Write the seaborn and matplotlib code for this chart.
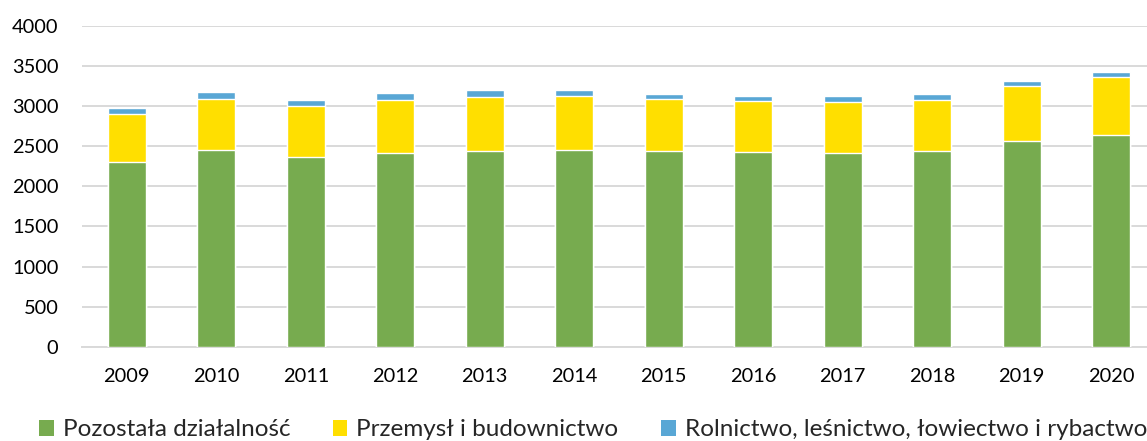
import matplotlib
matplotlib.use("Agg")
import matplotlib.pyplot as plt
import seaborn as sns
import pandas as pd
import numpy as np
from matplotlib.patches import Patch

years = ["2009", "2010", "2011", "2012", "2013", "2014", "2015", "2016", "2017", "2018", "2019", "2020"]
pozostala = [2300, 2449, 2366, 2421, 2441, 2459, 2437, 2425, 2416, 2437, 2562, 2641]
przemysl = [608, 638, 638, 662, 676, 666, 650, 641, 638, 646, 684, 717]
rolnictwo = [71, 84, 79, 84, 79, 71, 71, 67, 71, 71, 66, 71]
series_names = ["Pozostała działalność", "Przemysł i budownictwo",
                "Rolnictwo, leśnictwo, łowiectwo i rybactwo"]
colors = ["#77AB4F", "#FFDF00", "#59A7D5"]
yticks = [0, 500, 1000, 1500, 2000, 2500, 3000, 3500, 4000]

sns.set_theme(style="white")
plt.rcParams["font.family"] = ["Lato", "DejaVu Sans"]

df = pd.DataFrame({"year": years,
                   "p": pozostala, "z": przemysl, "r": rolnictwo})
df["lvl1"] = df["p"]
df["lvl2"] = df["p"] + df["z"]
df["lvl3"] = df["lvl2"] + df["r"]

W, H = 1147, 441
fig = plt.figure(figsize=(W / 100, H / 100), dpi=100)
ax = fig.add_axes([82 / W, 1 - 346.7 / H, (1156 - 82) / W, (346.7 - 26) / H])

for col, c in zip(["lvl3", "lvl2", "lvl1"], colors[::-1]):
    sns.barplot(data=df, x="year", y=col, color=c, saturation=1, width=0.424,
                ax=ax, order=years, zorder=3)

ax.set_ylim(0, 4000)
ax.set_xlim(-0.5, 11.5)
ax.set_yticks(yticks)
ax.set_yticklabels([str(v) for v in yticks])
ax.yaxis.grid(True, color="#D9D9D9", linewidth=1.4, zorder=0)
ax.set_axisbelow(True)
for s in ["top", "right", "left"]:
    ax.spines[s].set_visible(False)
ax.spines["bottom"].set_color("#D9D9D9")
ax.spines["bottom"].set_linewidth(1.4)
ax.tick_params(axis="both", length=0, labelsize=14.4, labelcolor="#000000")
ax.tick_params(axis="y", pad=17)
ax.tick_params(axis="x", pad=15)
ax.set_xlabel("")
ax.set_ylabel("")

handles = [Patch(facecolor=c, edgecolor="none") for c in colors]
fig.legend(handles, series_names, loc="center left",
           bbox_to_anchor=(39 / W, 1 - 430 / H), ncol=3, frameon=False,
           fontsize=17.5, handlelength=0.6, handleheight=0.6, handletextpad=0.37,
           columnspacing=1.75, borderaxespad=0, borderpad=0)

fig.savefig("out.png", dpi=100)
